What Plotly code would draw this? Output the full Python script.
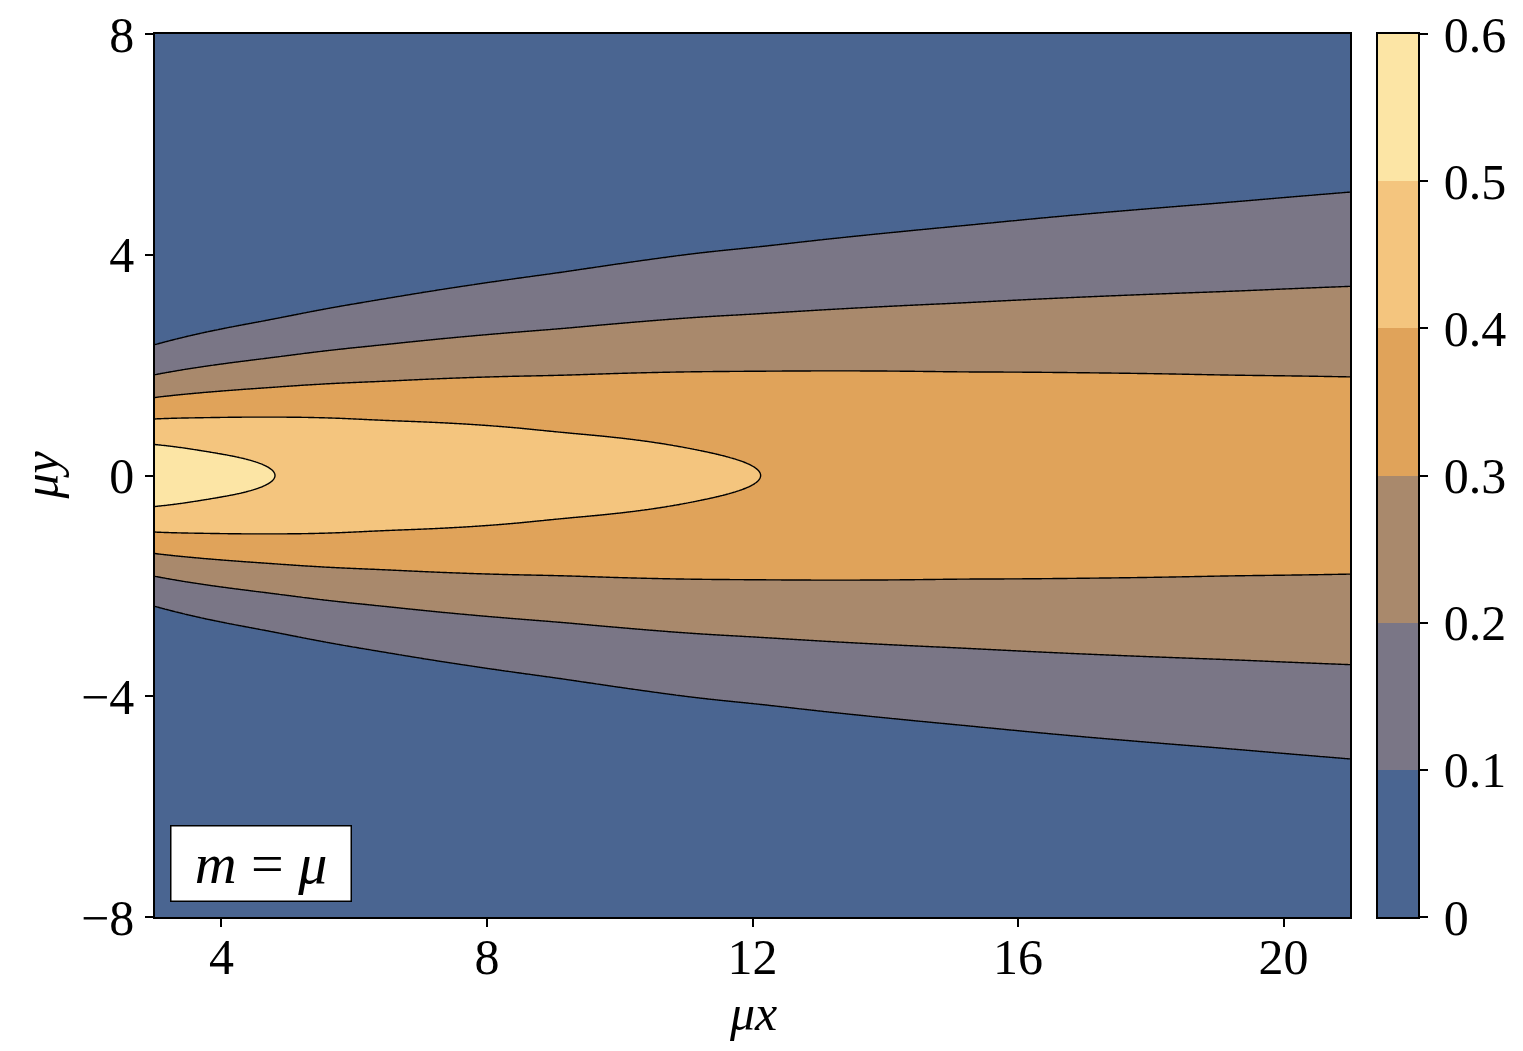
import numpy as np
import plotly.graph_objects as go

# Values
# sample positions along mu*x, peak value at y=0 and Gaussian spread (2*sigma^2) of the profile in mu*y
x_samples = [3.0, 3.67, 4.81, 5.48, 6.38, 7.28, 9.09, 11.2, 12.13, 13.0, 15.12, 16.93, 19.18, 21.0]
peak_values = [0.55, 0.525, 0.50, 0.485, 0.465, 0.452, 0.427, 0.407, 0.400, 0.393, 0.377, 0.367, 0.356, 0.349]
spread_values = [3.3, 4.0, 5.0, 5.7, 6.6, 7.5, 9.3, 11.6, 12.4, 13.3, 15.4, 17.2, 19.3, 21.1]

levels = [0.0, 0.1, 0.2, 0.3, 0.4, 0.5, 0.6]
level_labels = ["0", "0.1", "0.2", "0.3", "0.4", "0.5", "0.6"]
band_colors = ["#4a6591", "#7a7686", "#a9896c", "#e0a35a", "#f4c57e", "#fce5a5"]

x_ticks = [4, 8, 12, 16, 20]
y_ticks = [-8, -4, 0, 4, 8]
y_tick_text = ["\u22128", "\u22124", "0", "4", "8"]

FONT = "Liberation Serif"
FS = 50

# pixel layout (page coordinates); the html body adds an 8px margin
OFF = 8
W, H = 1523 - 2 * OFF, 1051 - 2 * OFF
L, R_EDGE, T, B = 155 - OFF, 1418 - OFF, 34 - OFF, 917 - OFF
PLOT_R = 1350 - OFF
CB_L = 1378 - OFF
AW = R_EDGE - L
AH = B - T

xg = np.linspace(3, 21, 721)
yg = np.linspace(-8, 8, 641)


def smooth_profile(vals, half=12):
    k = np.exp(-0.5 * (np.arange(-2 * half, 2 * half + 1) / half) ** 2)
    k /= k.sum()
    padded = np.pad(vals, 2 * half, mode="reflect", reflect_type="odd")
    return np.convolve(padded, k, mode="valid")


A = smooth_profile(np.interp(xg, x_samples, peak_values))
S = smooth_profile(np.interp(xg, x_samples, spread_values))
Z = A[None, :] * np.exp(-(yg[:, None] ** 2) / S[None, :])

# contour fill colour mapping (plotly maps band k to (k+1)/nc)
nc = len(levels)
scale = []
for k, c in enumerate(band_colors):
    lo = 0.0 if k == 0 else (k + 0.5) / nc
    hi = 1.0 if k == len(band_colors) - 1 else (k + 1.5) / nc
    scale += [[lo, c], [hi, c]]

# stepped colour scale for the hand-made colour bar
nb = len(band_colors)
cb_scale = []
for k, c in enumerate(band_colors):
    cb_scale += [[k / nb, c], [(k + 1) / nb, c]]
band_mids = [[(levels[k] + levels[k + 1]) / 2] for k in range(nb)]

fig = go.Figure()
fig.add_trace(go.Contour(
    x=xg, y=yg, z=Z,
    colorscale=scale, showscale=False,
    autocontour=False,
    contours=dict(start=levels[0], end=levels[-1], size=0.1, coloring="fill", showlines=True),
    line=dict(color="black", width=1.4, smoothing=1),
    hoverinfo="skip",
    xaxis="x", yaxis="y",
))
fig.add_trace(go.Heatmap(
    x=[0, 1], y=levels, z=band_mids,
    colorscale=cb_scale, zmin=levels[0], zmax=levels[-1], showscale=False,
    hoverinfo="skip", xaxis="x2", yaxis="y2",
))

axis_common = dict(
    showline=True, mirror=True, linecolor="black", linewidth=1.5,
    ticks="outside", ticklen=8, tickwidth=1.5, tickcolor="black",
    showgrid=False, zeroline=False, automargin=False, ticklabeloverflow="allow",
    tickfont=dict(family=FONT, size=FS, color="black"),
)

fig.update_layout(
    width=W, height=H,
    margin=dict(l=L, r=W - R_EDGE, t=T, b=H - B, autoexpand=False),
    paper_bgcolor="white", plot_bgcolor="white",
    xaxis=dict(domain=[0, (PLOT_R - L) / AW], range=[3, 21], tickvals=x_ticks,
               ticklabelstandoff=-13, anchor="y", **axis_common),
    yaxis=dict(domain=[0, 1], range=[-8, 8], tickvals=y_ticks, ticktext=y_tick_text,
               ticklabelstandoff=1, anchor="x", **axis_common),
    xaxis2=dict(domain=[(CB_L - L) / AW, 1], range=[0, 1], anchor="y2",
                showline=True, mirror=True, linecolor="black", linewidth=1.5,
                showticklabels=False, ticks="", showgrid=False, zeroline=False, automargin=False),
    yaxis2=dict(domain=[0, 1], range=[0, 0.6], anchor="x2", side="right",
                tickvals=levels, ticktext=level_labels, ticklabelstandoff=6, **axis_common),
    annotations=[
        dict(text="<i>m</i> = <i>μ</i>", xref="paper", yref="paper",
             x=15 / AW, y=15 / AH, xanchor="left", yanchor="bottom",
             showarrow=False, bgcolor="white", bordercolor="black", borderwidth=1.5,
             borderpad=2, width=175, height=70,
             font=dict(family=FONT, size=58, color="black")),
        dict(text="<i>μx</i>", xref="paper", yref="paper",
             x=((L + PLOT_R) / 2 - L) / AW, y=-(H - B) / AH,
             xanchor="center", yanchor="bottom", showarrow=False,
             font=dict(family=FONT, size=FS, color="black")),
        dict(text="<i>μy</i>", xref="paper", yref="paper", textangle=-90,
             x=(40 - OFF - L) / AW, y=0.5, xanchor="center", yanchor="middle", showarrow=False,
             font=dict(family=FONT, size=FS, color="black")),
    ],
)

fig.write_html("out.html")
